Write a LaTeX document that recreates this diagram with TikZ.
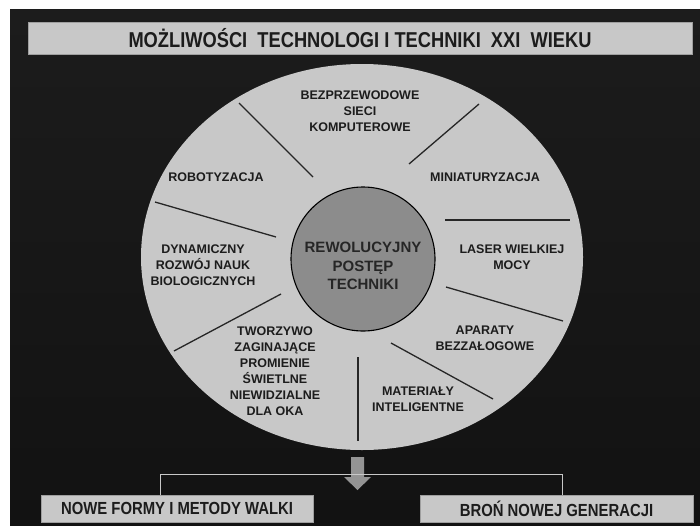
\documentclass[tikz,border=0pt]{standalone}
\usepackage{fontspec}
\setmainfont{Liberation Sans}
\newfontfamily\narrowfont[FakeStretch=0.85]{Liberation Sans}
\usetikzlibrary{positioning}
\definecolor{backdark}{RGB}{18,18,18}
\definecolor{backtop}{RGB}{28,28,28}
\definecolor{panelgray}{RGB}{200,200,200}
\definecolor{coregray}{RGB}{140,140,140}
\definecolor{arrowgray}{RGB}{148,148,148}
\definecolor{inkdark}{RGB}{28,28,28}

\begin{document}
\begin{tikzpicture}[x=1pt,y=-1pt, every node/.style={font=\bfseries\fontsize{12.5}{16}\selectfont,align=center,text=inkdark}]
    \tikzset{banner/.style={draw=gray!75,fill=panelgray,inner sep=0pt,font=\narrowfont\bfseries\fontsize{21.5}{24}\selectfont}}
    \tikzset{result/.style={draw=gray!75,fill=panelgray,minimum width=272pt,minimum height=27pt,inner sep=0pt,font=\narrowfont\bfseries\fontsize{17.5}{20}\selectfont}}
    \tikzset{topic/.style={inner sep=0pt}}
    \tikzset{spoke/.style={line width=1.3pt,black!85}}
    \tikzset{tree/.style={panelgray,line width=0.8pt}}

    \useasboundingbox (0,0) rectangle (700,525);
    \shade[top color=backtop,bottom color=backdark] (10,9) rectangle (700,525);

    % Title
    \node[banner,minimum width=664pt,minimum height=32pt] (title) at (360,38) {MOŻLIWOŚCI\ \ TECHNOLOGI I TECHNIKI\ \ XXI\ \ WIEKU};

    % Wheel
    \fill[panelgray] (362,257) ellipse [x radius=221, y radius=193];
    \node[circle,draw=black,line width=1.1pt,fill=coregray,minimum size=144pt,inner sep=0pt] (core) at (363,259) {};
    \node[topic,font=\bfseries\fontsize{15}{18.5}\selectfont,text=black!85] (coretext) at ([yshift=-7pt]core.center) {REWOLUCYJNY\\POSTĘP\\TECHNIKI};

    \draw[spoke] (239,103) -- (313,177);
    \draw[spoke] (479,104) -- (409,164);
    \draw[spoke] (155,202) -- (276,237);
    \draw[spoke] (445,220) -- (570,220);
    \draw[spoke] (446,287) -- (563,321);
    \draw[spoke] (281,294) -- (174,351);
    \draw[spoke] (391,343) -- (493,399);
    \draw[spoke] (358,357) -- (358,441);

    \node[topic] (wireless) at (360,111) {BEZPRZEWODOWE\\SIECI\\KOMPUTEROWE};
    \node[topic] (robots) at (216,177) {ROBOTYZACJA};
    \node[topic] (miniature) at (485,177) {MINIATURYZACJA};
    \node[topic] (biology) at (203,265) {DYNAMICZNY\\ROZWÓJ NAUK\\BIOLOGICZNYCH};
    \node[topic] (laser) at (512,257) {LASER WIELKIEJ\\MOCY};
    \node[topic] (drones) at (485,338) {APARATY\\BEZZAŁOGOWE};
    \node[topic] (plastic) at (275,371) {TWORZYWO\\ZAGINAJĄCE\\PROMIENIE\\ŚWIETLNE\\NIEWIDZIALNE\\DLA OKA};
    \node[topic] (smart) at (418,399) {MATERIAŁY\\INTELIGENTNE};

    % Outcome
    \fill[arrowgray] (351,457) -- (364,457) -- (364,477) -- (371,477) -- (357.5,490) -- (344,477) -- (351,477) -- cycle;
    \node[result] (warfare) at (177,508.5) {NOWE FORMY I METODY WALKI};
    \node[result,minimum width=273pt] (weapons) at (556.5,509) {BROŃ NOWEJ GENERACJI};
    \coordinate (fork) at (361,474);
    \draw[tree] ([xshift=-17pt]warfare.north) |- (fork) -| ([xshift=5.5pt]weapons.north);
  \end{tikzpicture}
\end{document}
